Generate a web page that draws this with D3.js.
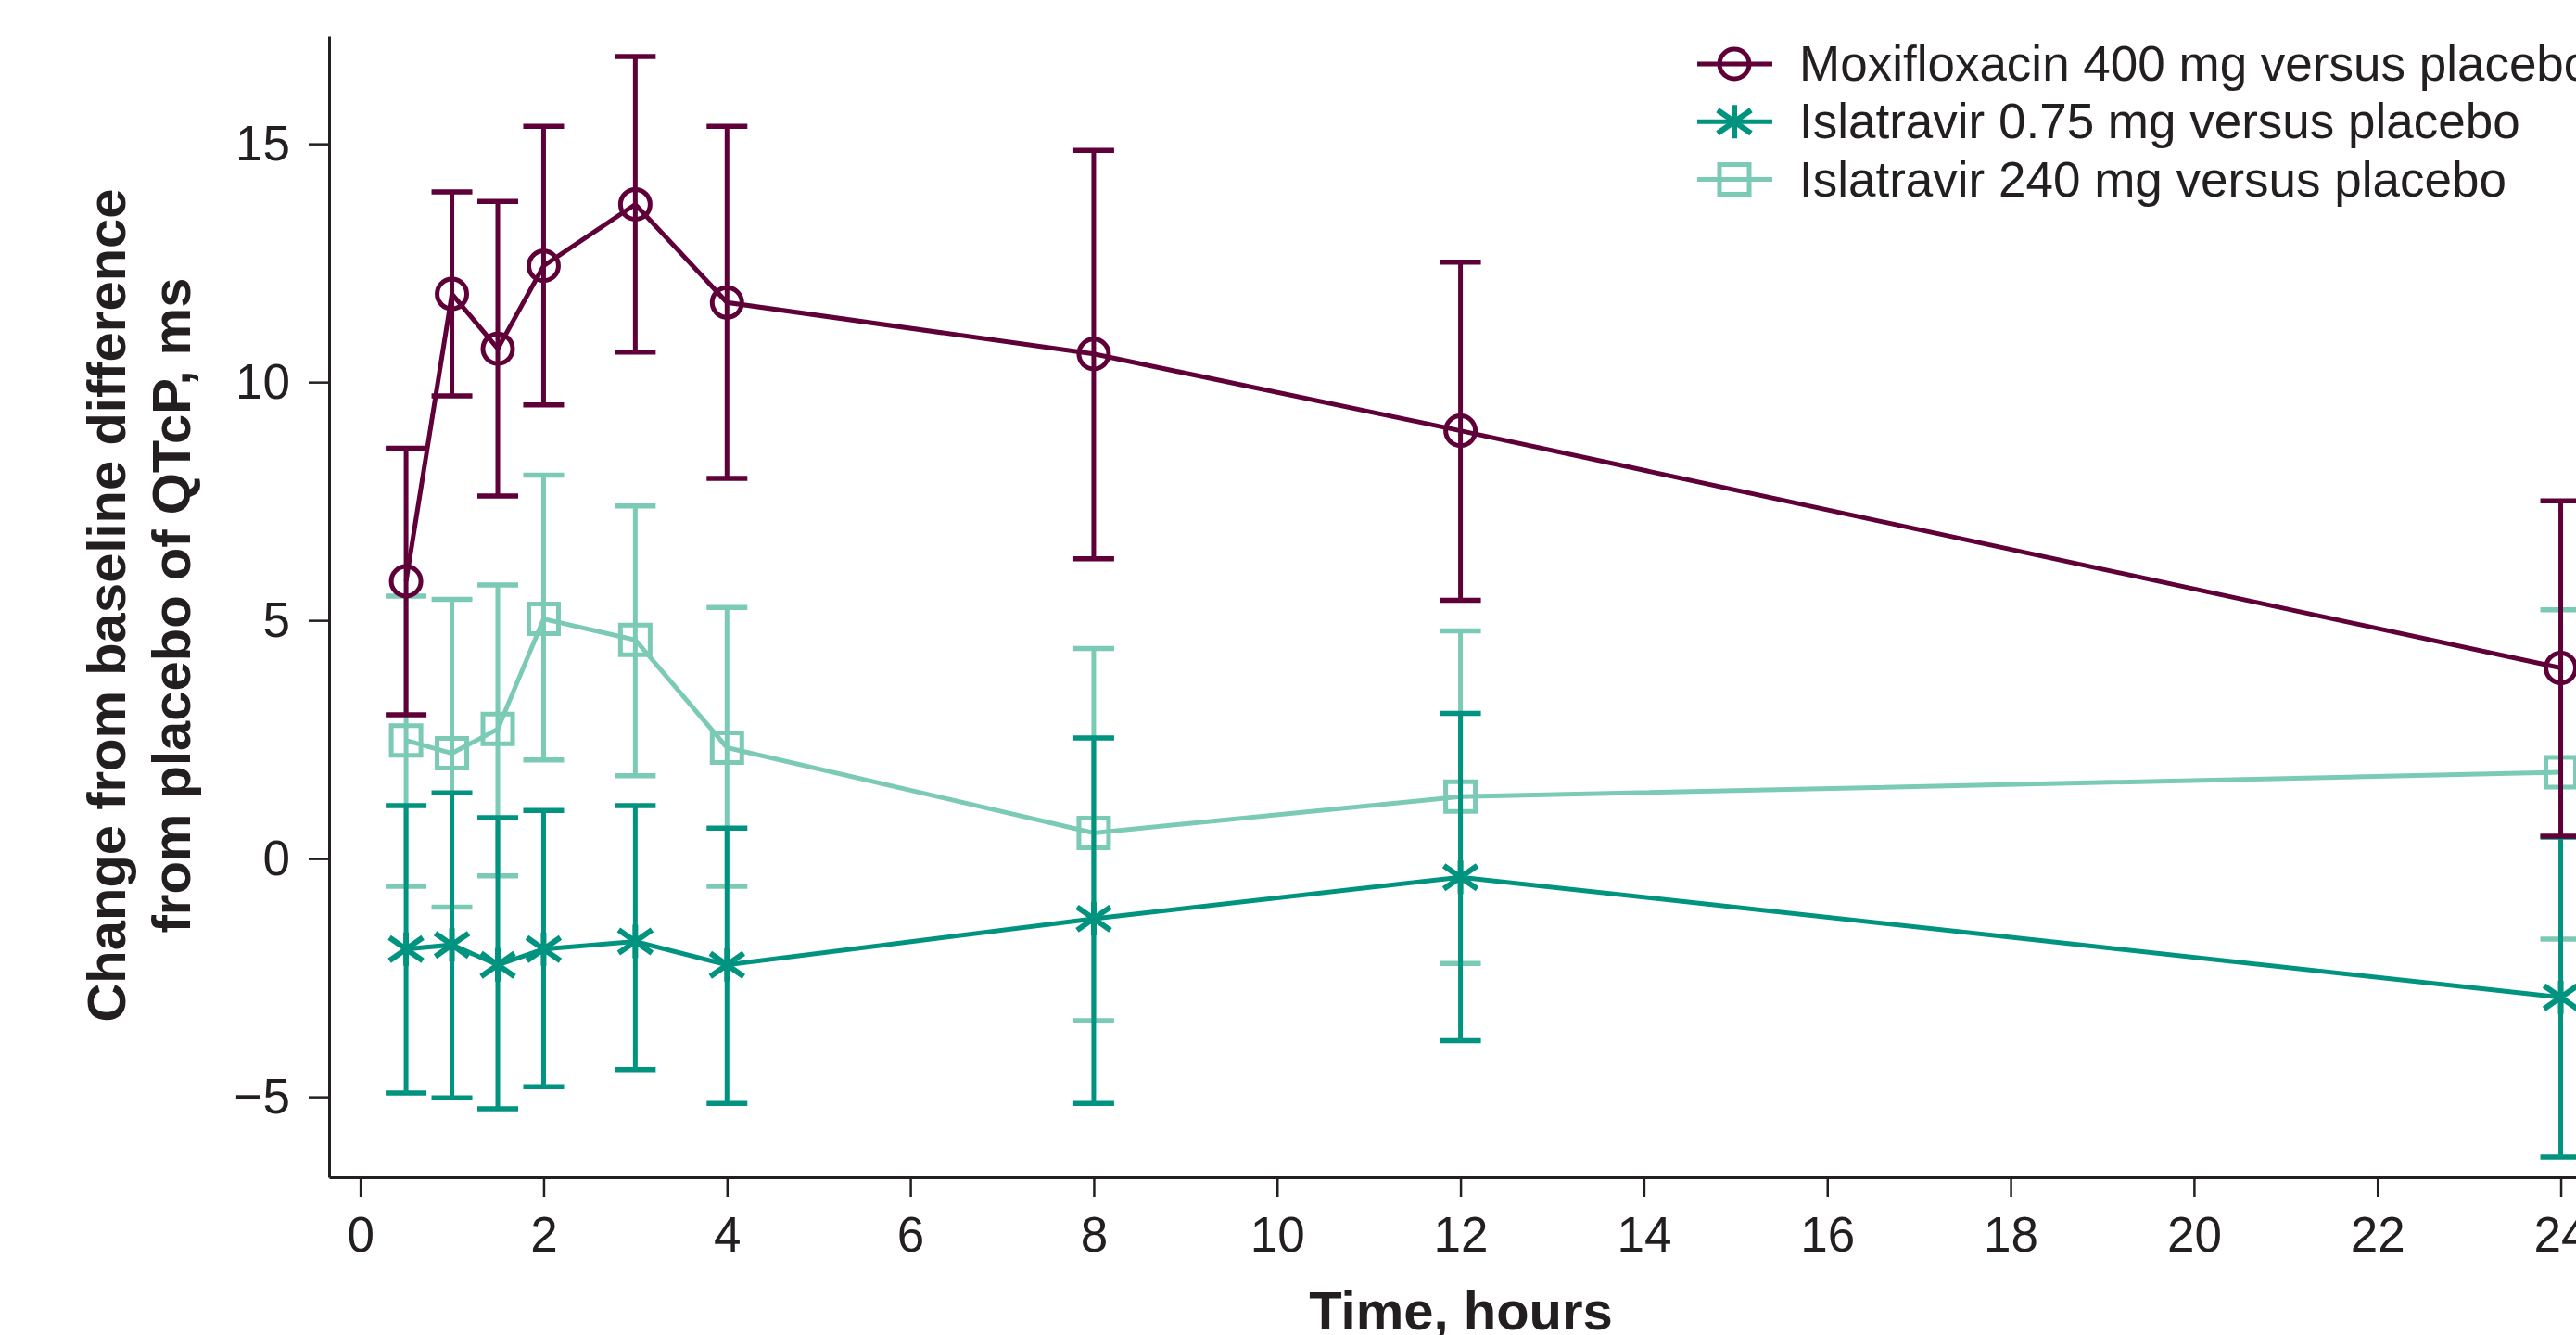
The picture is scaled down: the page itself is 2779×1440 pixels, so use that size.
<!DOCTYPE html>
<html>
<head>
<meta charset="utf-8">
<script src="https://cdn.jsdelivr.net/npm/d3@7"></script>
<style>
  body { margin: 0; background: #fff; }
  svg { display: block; }
  text { font-family: "Liberation Sans", Arial, Helvetica, sans-serif; fill: #231f20; }
</style>
</head>
<body>
<svg id="chart"></svg>
<script>
// time points (hours)
var times = [0.5, 1, 1.5, 2, 3, 4, 8, 12, 24];

// Moxifloxacin 400 mg versus placebo
var moxiMean  = [5.82, 11.85, 10.70, 12.44, 13.73, 11.67, 10.59, 8.98, 4.00];
var moxiLow   = [3.02, 9.71, 7.61, 9.52, 10.63, 7.98, 6.29, 5.42, 0.47];
var moxiHigh  = [8.61, 13.99, 13.79, 15.37, 16.83, 15.37, 14.86, 12.52, 7.51];

// Islatravir 0.75 mg versus placebo
var isl075Mean = [-1.90, -1.81, -2.23, -1.90, -1.74, -2.23, -1.26, -0.39, -2.91];
var isl075Low  = [-4.92, -5.02, -5.25, -4.79, -4.43, -5.14, -5.14, -3.82, -6.26];
var isl075High = [1.11, 1.38, 0.86, 1.01, 1.11, 0.64, 2.53, 3.05, 0.45];

// Islatravir 240 mg versus placebo
var isl240Mean = [2.48, 2.21, 2.72, 5.03, 4.59, 2.33, 0.54, 1.30, 1.81];
var isl240Low  = [-0.58, -1.02, -0.36, 2.07, 1.74, -0.58, -3.40, -2.20, -1.69];
var isl240High = [5.51, 5.44, 5.74, 8.05, 7.40, 5.27, 4.41, 4.78, 5.22];

var seriesNames = ["Moxifloxacin 400 mg versus placebo",
                   "Islatravir 0.75 mg versus placebo",
                   "Islatravir 240 mg versus placebo"];
var seriesColors = ["#5f0038", "#00937f", "#7bcab5"];
var seriesMarkers = ["circle", "asterisk", "square"];

var xTicks = [0, 2, 4, 6, 8, 10, 12, 14, 16, 18, 20, 22, 24];
var yTicks = [-5, 0, 5, 10, 15];

var xTitle = "Time, hours";
var yTitle = ["Change from baseline difference", "from placebo of QTcP, ms"];

var W = 2779, H = 1440;
var svg = d3.select("#chart").attr("width", W).attr("height", H);
svg.append("rect").attr("width", W).attr("height", H).attr("fill", "#fff");

var x = d3.scaleLinear().domain([-0.34, 24.5]).range([355, 2812]);
var y = d3.scaleLinear().domain([-6.69, 17.26]).range([1270, 39]);

function build(mean, low, high) {
  return times.map(function(t, i) {
    return { t: t, m: mean[i], lo: low[i], hi: high[i] };
  });
}
var series = [
  { name: seriesNames[0], color: seriesColors[0], marker: seriesMarkers[0], data: build(moxiMean, moxiLow, moxiHigh) },
  { name: seriesNames[1], color: seriesColors[1], marker: seriesMarkers[1], data: build(isl075Mean, isl075Low, isl075High) },
  { name: seriesNames[2], color: seriesColors[2], marker: seriesMarkers[2], data: build(isl240Mean, isl240Low, isl240High) }
];

var sw = 5;

function markerPath(type) {
  if (type == "circle") {
    var r = 16;
    return "M" + (-r) + ",0A" + r + "," + r + " 0 1,0 " + r + ",0A" + r + "," + r + " 0 1,0 " + (-r) + ",0Z";
  }
  if (type == "square") {
    var s = 16;
    return "M" + (-s) + "," + (-s) + "H" + s + "V" + s + "H" + (-s) + "Z";
  }
  // asterisk: vertical arm + two diagonals
  return "M0,-18V18M-18,-12.5L18,12.5M-18,12.5L18,-12.5";
}

// axes
var xAxis = svg.append("g")
  .attr("transform", "translate(0," + 1270 + ")")
  .call(d3.axisBottom(x).tickValues(xTicks).tickSize(21).tickSizeOuter(0).tickPadding(21));
var yAxis = svg.append("g")
  .attr("transform", "translate(" + 355 + ",0)")
  .call(d3.axisLeft(y).tickValues(yTicks).tickSize(22).tickSizeOuter(0).tickPadding(20));

[xAxis, yAxis].forEach(function(g) {
  g.select(".domain").attr("stroke", "#231f20").attr("stroke-width", 3);
  g.selectAll(".tick line").attr("stroke", "#231f20").attr("stroke-width", 2.5);
  g.selectAll(".tick text").style("font-size", "53px").attr("fill", "#231f20");
});

// draw series (light teal first, moxifloxacin on top)
var order = [2, 1, 0];
var line = d3.line().x(function(d) { return x(d.t); }).y(function(d) { return y(d.m); });

order.forEach(function(k) {
  var s = series[k];
  var g = svg.append("g");

  var eb = g.selectAll(".eb").data(s.data).enter().append("g");
  eb.append("line")
    .attr("x1", function(d) { return x(d.t); }).attr("x2", function(d) { return x(d.t); })
    .attr("y1", function(d) { return y(d.lo); }).attr("y2", function(d) { return y(d.hi); })
    .attr("stroke", s.color).attr("stroke-width", sw);
  eb.append("line")
    .attr("x1", function(d) { return x(d.t) - 22; }).attr("x2", function(d) { return x(d.t) + 22; })
    .attr("y1", function(d) { return y(d.hi); }).attr("y2", function(d) { return y(d.hi); })
    .attr("stroke", s.color).attr("stroke-width", 5.5);
  eb.append("line")
    .attr("x1", function(d) { return x(d.t) - 22; }).attr("x2", function(d) { return x(d.t) + 22; })
    .attr("y1", function(d) { return y(d.lo); }).attr("y2", function(d) { return y(d.lo); })
    .attr("stroke", s.color).attr("stroke-width", 5.5);

  g.append("path").datum(s.data)
    .attr("d", line).attr("fill", "none")
    .attr("stroke", s.color).attr("stroke-width", sw);

  g.selectAll(".mk").data(s.data).enter().append("path")
    .attr("transform", function(d) { return "translate(" + x(d.t) + "," + y(d.m) + ")"; })
    .attr("d", markerPath(s.marker))
    .attr("fill", "none").attr("stroke", s.color).attr("stroke-width", s.marker == "asterisk" ? 6 : sw);
});

// legend
var legend = svg.append("g");
series.forEach(function(s, i) {
  var ly = 69 + i * 62.3;
  var row = legend.append("g").attr("transform", "translate(0," + ly + ")");
  row.append("line").attr("x1", 1831).attr("x2", 1912).attr("y1", 0).attr("y2", 0)
    .attr("stroke", s.color).attr("stroke-width", sw);
  row.append("path").attr("transform", "translate(1871,0)")
    .attr("d", markerPath(s.marker))
    .attr("fill", "none").attr("stroke", s.color).attr("stroke-width", s.marker == "asterisk" ? 6 : sw);
  row.append("text").attr("x", 1941).attr("y", 18)
    .style("font-size", "53px").text(s.name);
});

// axis titles
svg.append("text")
  .attr("x", 1576).attr("y", 1434)
  .attr("text-anchor", "middle")
  .style("font-size", "58px").style("font-weight", "bold")
  .text(xTitle);

yTitle.forEach(function(t, i) {
  svg.append("text")
    .attr("transform", "translate(" + (135 + i * 70) + ",653) rotate(-90)")
    .attr("text-anchor", "middle")
    .style("font-size", "58px").style("font-weight", "bold")
    .text(t);
});
</script>
</body>
</html>
